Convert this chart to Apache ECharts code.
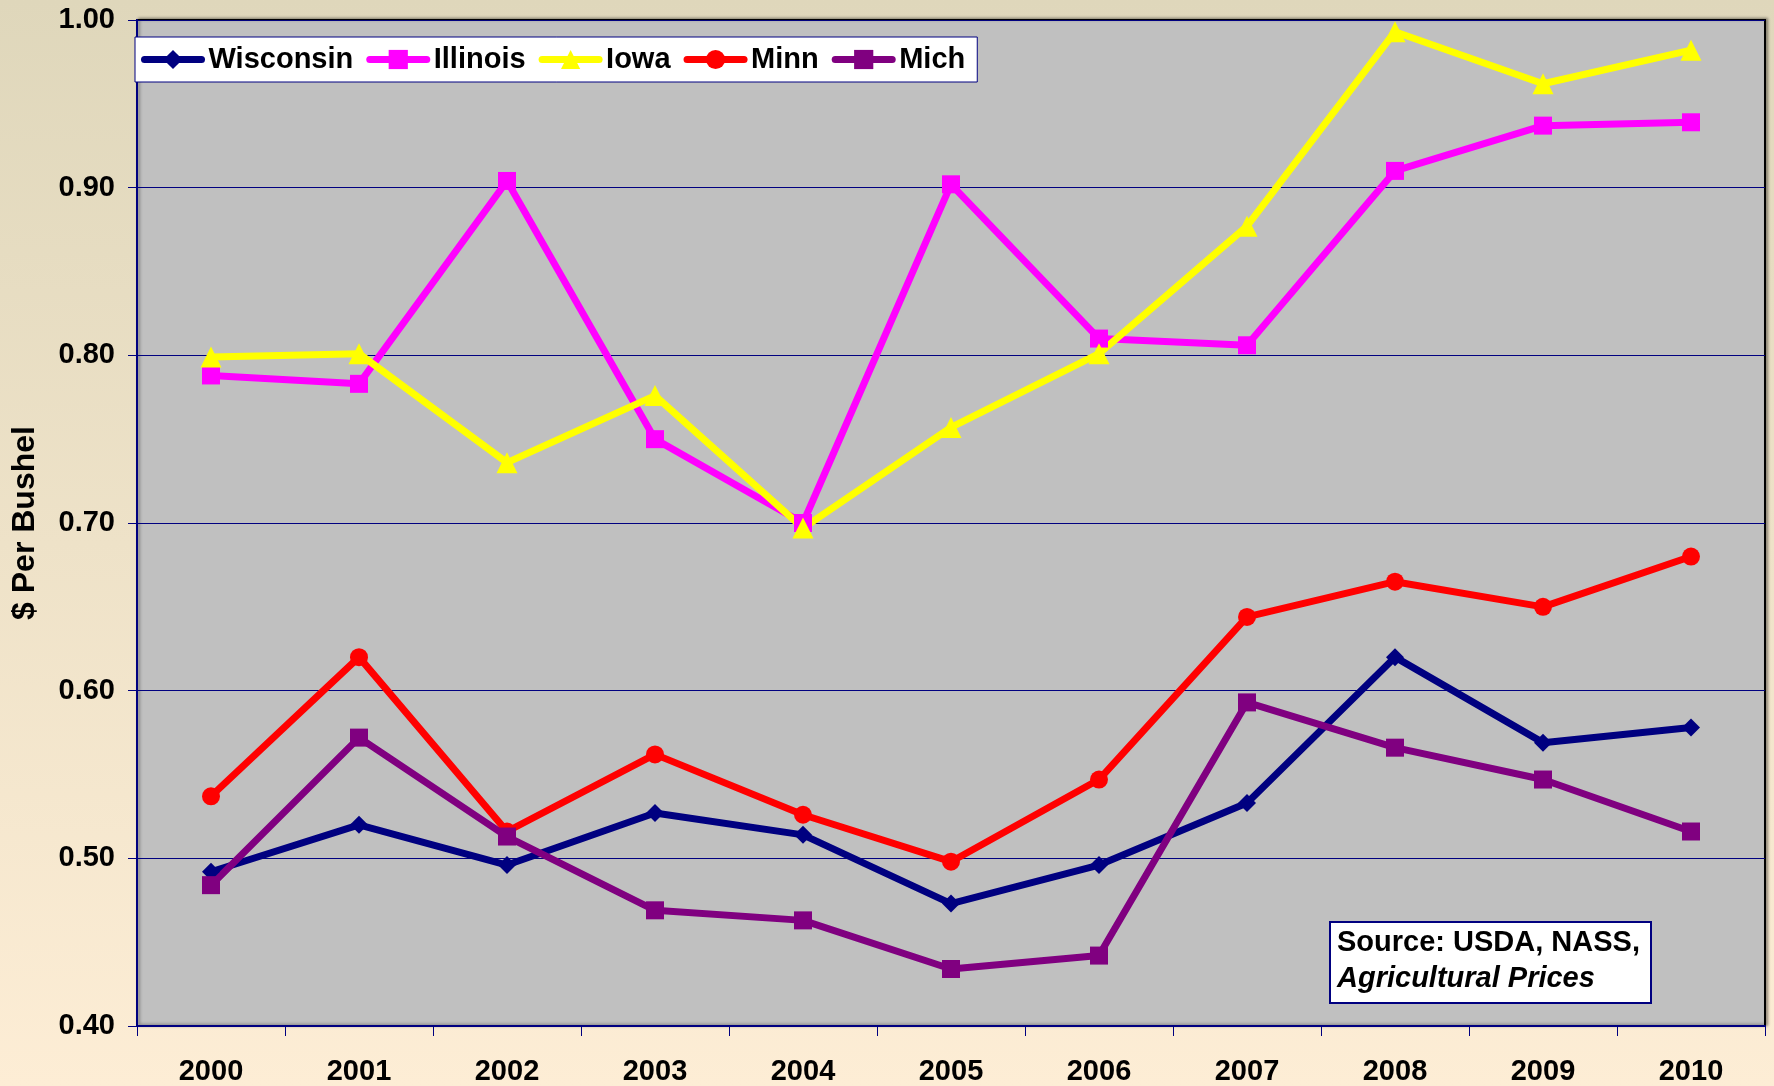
<!DOCTYPE html>
<html>
<head>
<meta charset="utf-8">
<title>$ Per Bushel</title>
<script src="https://cdn.jsdelivr.net/npm/echarts@6/dist/echarts.min.js"></script>
<style>
  html, body { margin: 0; padding: 0; }
  #chart { width: 1774px; height: 1086px; }
</style>
</head>
<body>
<div id="chart"></div>
<script>
// years on the x axis
var years = ['2000', '2001', '2002', '2003', '2004', '2005', '2006', '2007', '2008', '2009', '2010'];

// price per bushel by state
var wisconsin = [0.492, 0.520, 0.496, 0.527, 0.514, 0.473, 0.496, 0.533, 0.620, 0.569, 0.578];
var illinois  = [0.788, 0.783, 0.904, 0.750, 0.700, 0.902, 0.810, 0.806, 0.910, 0.937, 0.939];
var iowa      = [0.799, 0.801, 0.736, 0.776, 0.697, 0.757, 0.801, 0.877, 0.993, 0.962, 0.982];
var minn      = [0.537, 0.620, 0.516, 0.562, 0.526, 0.498, 0.547, 0.644, 0.665, 0.650, 0.680];
var mich      = [0.484, 0.572, 0.513, 0.469, 0.463, 0.434, 0.442, 0.593, 0.566, 0.547, 0.516];

var font = 'Arial, "Liberation Sans", sans-serif';

function line(name, data, color, symbol, size) {
    return {
        name: name,
        type: 'line',
        data: data,
        symbol: symbol,
        symbolSize: size,
        showSymbol: true,
        lineStyle: { color: color, width: 7 },
        itemStyle: { color: color },
        emphasis: { disabled: true }
    };
}

var chart = echarts.init(document.getElementById('chart'));
chart.setOption({
    animation: false,
    backgroundColor: {
        type: 'linear', x: 0, y: 0, x2: 0, y2: 1,
        colorStops: [
            { offset: 0, color: '#dfd7bb' },
            { offset: 1, color: '#fdedd5' }
        ]
    },
    grid: {
        left: 137, top: 20, right: 9, bottom: 60,
        show: true,
        backgroundColor: '#c0c0c0',
        borderColor: '#000000',
        borderWidth: 2,
        shadowColor: 'rgba(0,0,0,0.35)',
        shadowBlur: 3,
        shadowOffsetX: 2,
        shadowOffsetY: -1
    },
    legend: {
        left: 135, top: 37,
        orient: 'horizontal',
        backgroundColor: '#ffffff',
        borderColor: '#000080',
        borderWidth: 1,
        padding: [8, 12, 8, 6],
        itemWidth: 57,
        itemHeight: 24,
        itemGap: 13,
        lineStyle: { width: 7, cap: 'round' },
        textStyle: { fontFamily: font, fontSize: 29, fontWeight: 'bold', color: '#000', padding: [0, 0, 0, 2] },
        data: ['Wisconsin', 'Illinois', 'Iowa', 'Minn', 'Mich']
    },
    xAxis: {
        type: 'category',
        data: years,
        boundaryGap: true,
        axisLine: { lineStyle: { color: '#000080', width: 2 } },
        axisTick: { show: true, length: 10, lineStyle: { color: '#000080', width: 1 } },
        axisLabel: { margin: 31, fontFamily: font, fontSize: 29, fontWeight: 'bold', color: '#000' },
        splitLine: { show: false }
    },
    yAxis: {
        type: 'value',
        min: 0.4, max: 1.0, interval: 0.1,
        name: '$ Per Bushel',
        nameLocation: 'middle',
        nameGap: 96,
        nameTextStyle: { fontFamily: font, fontSize: 32, fontWeight: 'bold', color: '#000' },
        axisLine: { show: true, lineStyle: { color: '#000080', width: 2 } },
        axisTick: { show: true, length: 9, lineStyle: { color: '#000080', width: 1 } },
        axisLabel: {
            margin: 22, fontFamily: font, fontSize: 29, fontWeight: 'bold', color: '#000',
            formatter: function (v) { return v.toFixed(2); }
        },
        splitLine: { show: true, lineStyle: { color: '#000080', width: 1 } }
    },
    series: [
        line('Wisconsin', wisconsin, '#000080', 'diamond', 18),
        line('Illinois', illinois, '#ff00ff', 'rect', 18),
        line('Iowa', iowa, '#ffff00', 'triangle', 21),
        line('Minn', minn, '#ff0000', 'circle', 18),
        line('Mich', mich, '#800080', 'rect', 18)
    ],
    graphic: [{
        type: 'group',
        left: 1329, top: 921,
        children: [
            { type: 'rect', shape: { x: 0, y: 0, width: 321, height: 81 },
              style: { fill: '#ffffff', stroke: '#000080', lineWidth: 2 } },
            { type: 'text', x: 7, y: 6,
              style: { text: 'Source: USDA, NASS,', font: 'bold 29px ' + font, fill: '#000' } },
            { type: 'text', x: 7, y: 42,
              style: { text: 'Agricultural Prices', font: 'italic bold 29px ' + font, fill: '#000' } }
        ]
    }]
});
</script>
</body>
</html>
